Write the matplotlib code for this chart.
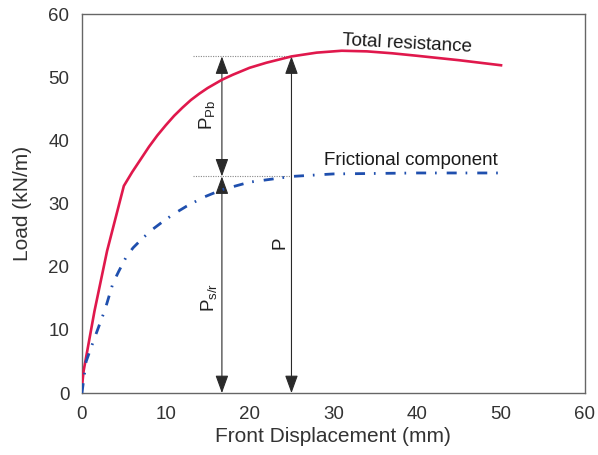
import matplotlib.pyplot as plt

plt.rcParams['font.family'] = ['Liberation Sans', 'DejaVu Sans']
plt.rcParams['mathtext.fontset'] = 'custom'
plt.rcParams['mathtext.rm'] = 'Liberation Sans'
plt.rcParams['mathtext.it'] = 'Liberation Sans'

# Curvas carga x deslocamento
desl_total = [0, 0.2, 1.5, 3.0, 5.0, 6.0, 7.0, 8.0, 9.0, 10.0, 11.0, 12.0, 13.0, 14.0, 15.0,
              16.7, 18.0, 20.0, 22.0, 25.0, 28.0, 31.0, 34.0, 37.0, 40.0, 45.0, 50.0]
carga_total = [1.0, 3.5, 13.0, 22.5, 32.8, 35.0, 37.0, 39.0, 40.8, 42.4, 43.9, 45.2, 46.4, 47.4, 48.3,
               49.6, 50.4, 51.5, 52.3, 53.3, 53.9, 54.2, 54.1, 53.8, 53.4, 52.7, 51.9]

desl_atrito = [0, 0.1, 0.5, 1.5, 2.75, 3.7, 4.4, 5.3, 6.1, 7.3, 8.5, 9.7, 11.0, 12.5, 14.5,
               16.7, 20.0, 25.0, 30.0, 40.0, 50.0]
carga_atrito = [0, 1.0, 5.0, 8.7, 13.2, 17.4, 19.3, 21.6, 23.0, 24.6, 26.0, 27.2, 28.4, 29.6, 31.0,
                32.2, 33.4, 34.3, 34.7, 34.85, 34.85]

# Posições das setas e níveis de carga indicados
x_seta_parcial = 16.7
x_seta_total = 25.0
nivel_atrito = 34.3
nivel_total = 53.3

fig = plt.figure(figsize=(5.98, 4.55), dpi=100)
ax = fig.add_axes([0.137, 0.136, 0.841, 0.833])

ax.plot(desl_total, carga_total, color='#e0184c', linewidth=1.9, zorder=3)
ax.plot(desl_atrito, carga_atrito, color='#1f4fae', linewidth=2.0,
        linestyle=(0, (3.6, 3.2, 0.6, 3.6)), zorder=3)

# Linhas de referência pontilhadas
for nivel in (nivel_atrito, nivel_total):
    ax.plot([13.3, x_seta_total], [nivel, nivel], color='#888888',
            linewidth=0.8, linestyle=(0, (1, 1.2)), zorder=1)

seta = dict(arrowstyle='<|-|>,head_length=0.55,head_width=0.2', color='#2a2a2a',
            linewidth=0.8, shrinkA=0, shrinkB=0, mutation_scale=20)
ax.annotate('', xy=(x_seta_parcial, 0), xytext=(x_seta_parcial, nivel_atrito), arrowprops=seta, zorder=2)
ax.annotate('', xy=(x_seta_parcial, nivel_atrito), xytext=(x_seta_parcial, nivel_total), arrowprops=seta, zorder=2)
ax.annotate('', xy=(x_seta_total, 0), xytext=(x_seta_total, nivel_total), arrowprops=seta, zorder=2)

ax.text(16.1, 44.0, r'$\mathregular{P_{Pb}}$', rotation=90, ha='right', va='center', fontsize=13.5, color='#222222')
ax.text(16.3, 15.2, r'$\mathregular{P_{s/r}}$', rotation=90, ha='right', va='center', fontsize=13.5, color='#222222')
ax.text(24.6, 23.8, 'P', rotation=90, ha='right', va='center', fontsize=13.5, color='#222222')

ax.text(38.8, 55.3, 'Total resistance', rotation=-3, ha='center', va='center', fontsize=13.5, color='#1a1a1a')
ax.text(39.2, 36.8, 'Frictional component', ha='center', va='center', fontsize=13.5, color='#1a1a1a')

ax.set_xlim(0, 60)
ax.set_ylim(0, 60)
ax.set_xticks(range(0, 61, 10))
ax.set_yticks(range(0, 61, 10))
ax.tick_params(length=0, labelsize=13.5, colors='#333333', pad=9)
for lado in ax.spines.values():
    lado.set_color('#666666')
    lado.set_linewidth(1.0)

ax.set_xlabel('Front Displacement (mm)', fontsize=15, color='#333333', labelpad=3)
ax.set_ylabel('Load (kN/m)', fontsize=15, color='#333333', labelpad=12)

fig.savefig('out.png', dpi=100)
